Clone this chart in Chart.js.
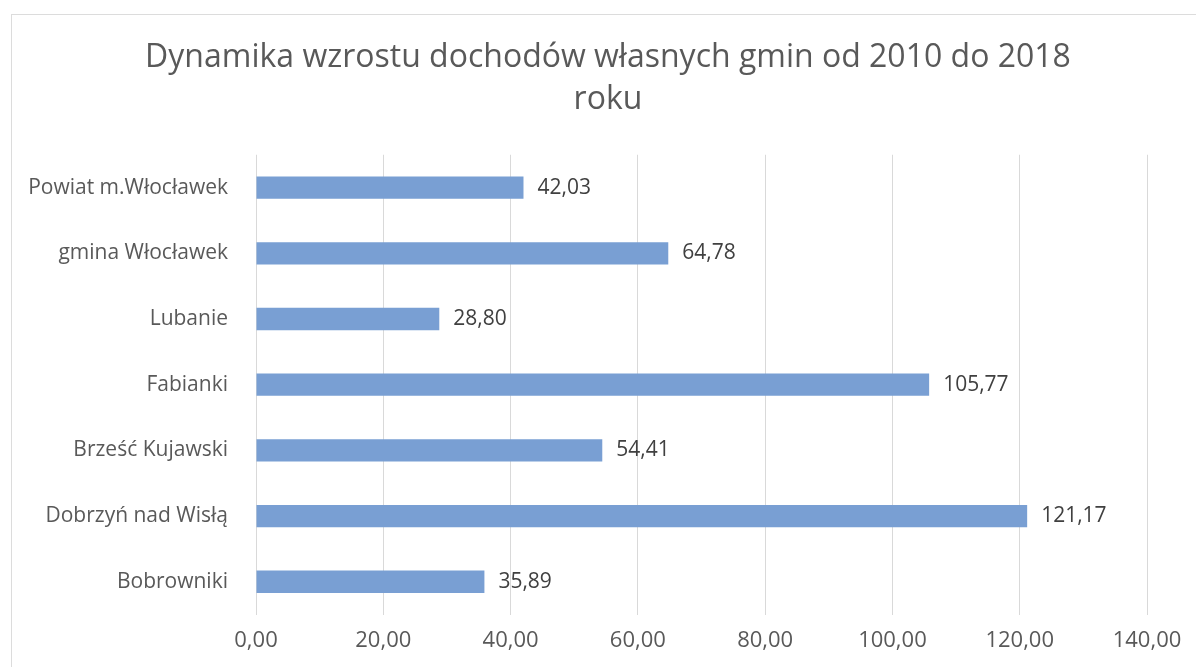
<!DOCTYPE html>
<html lang="pl">
<head>
<meta charset="utf-8">
<title>Dynamika wzrostu dochodów własnych gmin</title>
<script src="https://cdn.jsdelivr.net/npm/chart.js@4.4.1/dist/chart.umd.min.js"></script>
<style>
    html, body { margin: 0; padding: 0; background: #ffffff; }
    #wrap { position: relative; width: 1196px; height: 667px; overflow: hidden; }
    #frame { position: absolute; left: 11px; top: 14px; width: 1200px; height: 700px;
             border: 1px solid #dcdcdc; pointer-events: none; }
</style>
</head>
<body>
<div id="wrap">
    <canvas id="chart" width="1196" height="667"></canvas>
    <div id="frame"></div>
</div>
<script>
// dane
const gminy = [
    'Powiat m.Włocławek',
    'gmina Włocławek',
    'Lubanie',
    'Fabianki',
    'Brześć Kujawski',
    'Dobrzyń nad Wisłą',
    'Bobrowniki'
];
const dynamika = [42.03, 64.78, 28.80, 105.77, 54.41, 121.17, 35.89];
const tytul = ['Dynamika wzrostu dochodów własnych gmin od 2010 do 2018', 'roku'];

function fmt(v) {
    return Number(v).toFixed(2).replace('.', ',');
}

// etykiety wartości przy końcach słupków + przesunięcie tytułu
const valueLabels = {
    id: 'valueLabels',
    afterLayout(chart) {
        // w oryginale tytuł jest wyśrodkowany nieco na prawo od środka płótna
        if (chart.titleBlock) chart.titleBlock.left = 69;
    },
    afterDatasetsDraw(chart) {
        const ctx = chart.ctx;
        const meta = chart.getDatasetMeta(0);
        ctx.save();
        ctx.font = '21px "Open Sans", sans-serif';
        ctx.fillStyle = '#404040';
        ctx.textAlign = 'left';
        ctx.textBaseline = 'middle';
        meta.data.forEach((bar, i) => {
            ctx.fillText(fmt(chart.data.datasets[0].data[i]), bar.x + 14, bar.y);
        });
        ctx.restore();
    }
};

const ctx = document.getElementById('chart').getContext('2d');
new Chart(ctx, {
    type: 'bar',
    data: {
        labels: gminy,
        datasets: [{
            label: 'Dynamika',
            data: dynamika,
            backgroundColor: '#799fd3',
            borderWidth: 0,
            categoryPercentage: 1,
            barPercentage: 0.34
        }]
    },
    options: {
        indexAxis: 'y',
        responsive: false,
        animation: false,
        layout: { padding: { left: 0, right: 49, top: 0, bottom: 0 } },
        plugins: {
            legend: { display: false },
            tooltip: { enabled: false },
            title: {
                display: true,
                text: tytul,
                color: '#595959',
                font: { family: '"Open Sans", sans-serif', size: 32, weight: 'normal', lineHeight: 1.34 },
                padding: { top: 36, bottom: 33 }
            }
        },
        scales: {
            x: {
                min: 0,
                max: 140,
                ticks: {
                    stepSize: 20,
                    color: '#595959',
                    padding: 13,
                    font: { family: '"Open Sans", sans-serif', size: 22 },
                    callback: v => fmt(v)
                },
                grid: { color: '#d9d9d9', drawTicks: false },
                border: { display: false }
            },
            y: {
                ticks: {
                    color: '#595959',
                    padding: 28,
                    font: { family: '"Open Sans", sans-serif', size: 21 }
                },
                grid: { display: false, drawTicks: false },
                border: { display: false },
                afterFit(scale) { scale.width = 256; }
            }
        }
    },
    plugins: [valueLabels]
});
</script>
</body>
</html>
